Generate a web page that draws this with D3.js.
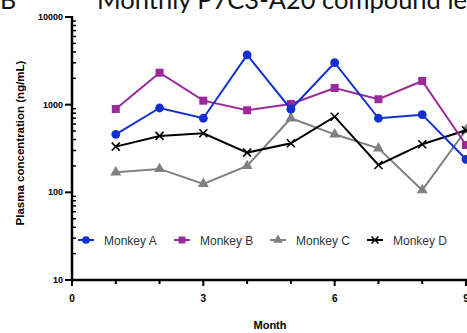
<!DOCTYPE html>
<html>
<head>
<meta charset="utf-8">
<script src="https://cdn.jsdelivr.net/npm/d3@7"></script>
<style>
  body { margin: 0; background: #fff; overflow: hidden; }
  svg { display: block; }
</style>
</head>
<body>
<svg id="chart" width="467" height="333"></svg>
<script>
// months and values
const months = [1, 2, 3, 4, 5, 6, 7, 8, 9];
const monkeyA = [459, 916, 700, 3690, 887, 3010, 700, 769, 238];
const monkeyB = [893, 2317, 1111, 863, 1019, 1550, 1153, 1862, 347];
const monkeyC = [169, 185, 125, 200, 700, 459, 318, 106, 514];
const monkeyD = [332, 440, 472, 284, 363, 729, 205, 354, 510];
const seriesNames = ["Monkey A", "Monkey B", "Monkey C", "Monkey D"];
const xTicks = [0, 3, 6, 9];
const yTicks = [10, 100, 1000, 10000];

const series = [
  { name: seriesNames[0], values: monkeyA, color: "#1030d0", shape: "circle" },
  { name: seriesNames[1], values: monkeyB, color: "#9a2a9a", shape: "square" },
  { name: seriesNames[2], values: monkeyC, color: "#808080", shape: "triangle" },
  { name: seriesNames[3], values: monkeyD, color: "#000000", shape: "cross" }
];

const sans = "'Liberation Sans', Arial, sans-serif";

const svg = d3.select("#chart");

const x = d3.scaleLinear().domain([0, 9]).range([72, 466]);
const y = d3.scaleLog().domain([10, 10000]).range([280, 17]);

// title (cut off at the top in the original)
svg.append("text")
  .attr("x", 0).attr("y", 9)
  .style("font-family", "Lato, 'Open Sans', sans-serif")
  .style("font-size", "25px")
  .attr("fill", "#111")
  .text("B");
svg.append("text")
  .attr("x", 97).attr("y", 9)
  .style("font-family", "Lato, 'Open Sans', sans-serif")
  .style("font-size", "25.5px")
  .attr("fill", "#111")
  .text("Monthly P7C3-A20 compound levels");

// y axis: major ticks + log minor ticks
const minor = [];
for (let d = 10; d < 10000; d *= 10) {
  for (let k = 2; k <= 9; k++) minor.push(d * k);
}
const yAxis = svg.append("g");
yAxis.append("line")
  .attr("x1", 72).attr("x2", 72)
  .attr("y1", y(10000) - 1).attr("y2", y(10) + 1)
  .attr("stroke", "#000").attr("stroke-width", 2.5);
yAxis.selectAll(".ymaj").data(yTicks).enter().append("line")
  .attr("x1", 65).attr("x2", 72)
  .attr("y1", d => y(d)).attr("y2", d => y(d))
  .attr("stroke", "#000").attr("stroke-width", 2);
yAxis.selectAll(".ymin").data(minor).enter().append("line")
  .attr("x1", 72).attr("x2", 76)
  .attr("y1", d => y(d)).attr("y2", d => y(d))
  .attr("stroke", "#000").attr("stroke-width", 1.5);
yAxis.selectAll(".ylab").data(yTicks).enter().append("text")
  .attr("x", 63).attr("y", d => y(d) + 3)
  .attr("text-anchor", "end")
  .style("font-family", sans)
  .style("font-size", "9px").style("font-weight", "bold")
  .text(d => d);

// x axis
const xAxis = svg.append("g");
xAxis.append("line")
  .attr("x1", 71).attr("x2", 467)
  .attr("y1", 280).attr("y2", 280)
  .attr("stroke", "#000").attr("stroke-width", 2.5);
xAxis.selectAll(".xmaj").data(xTicks).enter().append("line")
  .attr("x1", d => x(d)).attr("x2", d => x(d))
  .attr("y1", 280).attr("y2", 286)
  .attr("stroke", "#000").attr("stroke-width", 2);
xAxis.selectAll(".xmin").data(d3.range(1, 9).filter(d => d % 3 !== 0)).enter().append("line")
  .attr("x1", d => x(d)).attr("x2", d => x(d))
  .attr("y1", 280).attr("y2", 284)
  .attr("stroke", "#000").attr("stroke-width", 2);
xAxis.selectAll(".xlab").data(xTicks).enter().append("text")
  .attr("x", d => x(d)).attr("y", 302)
  .attr("text-anchor", "middle")
  .style("font-family", sans)
  .style("font-size", "10px").style("font-weight", "bold")
  .text(d => d);

// axis titles
svg.append("text")
  .attr("x", 270).attr("y", 329)
  .attr("text-anchor", "middle")
  .style("font-family", sans)
  .style("font-size", "11px").style("font-weight", "bold")
  .text("Month");
svg.append("text")
  .attr("transform", "translate(24,143) rotate(-90)")
  .attr("text-anchor", "middle")
  .style("font-family", sans)
  .style("font-size", "11.5px").style("font-weight", "bold")
  .text("Plasma concentration (ng/mL)");

// markers
function drawMarker(g, shape, color, size) {
  if (shape === "circle") {
    g.append("circle").attr("r", size * 0.55).attr("fill", color);
  } else if (shape === "square") {
    g.append("rect").attr("x", -size / 2).attr("y", -size / 2)
      .attr("width", size).attr("height", size).attr("fill", color);
  } else if (shape === "triangle") {
    g.append("path").attr("d", d3.symbol(d3.symbolTriangle, size * size * 0.8)()).attr("fill", color);
  } else {
    const s = size / 2;
    g.append("path").attr("d", `M${-s},${-s}L${s},${s}M${-s},${s}L${s},${-s}`)
      .attr("stroke", color).attr("stroke-width", 1.6).attr("fill", "none");
  }
}

const line = d3.line()
  .x((d, i) => x(months[i]))
  .y(d => y(d));

const plot = svg.append("g");
// draw C, D first then B, A on top like the picture
[2, 3, 1, 0].forEach(idx => {
  const s = series[idx];
  plot.append("path")
    .datum(s.values)
    .attr("d", line)
    .attr("fill", "none")
    .attr("stroke", s.color)
    .attr("stroke-width", 2);
  s.values.forEach((v, i) => {
    const g = plot.append("g").attr("transform", `translate(${x(months[i])},${y(v)})`);
    drawMarker(g, s.shape, s.color, 8);
  });
});

// legend
const legendX = [78, 174, 270, 367];
const legend = svg.append("g");
series.forEach((s, i) => {
  const g = legend.append("g").attr("transform", `translate(${legendX[i]},240)`);
  g.append("line").attr("x1", 0).attr("x2", 16).attr("y1", 0).attr("y2", 0)
    .attr("stroke", s.color).attr("stroke-width", 2);
  const m = g.append("g").attr("transform", "translate(8,0)");
  drawMarker(m, s.shape, s.color, 7);
  g.append("text")
    .attr("x", 26).attr("y", 4.5)
    .style("font-family", sans)
    .style("font-size", "12px")
    .attr("fill", "#333")
    .text(s.name);
});
</script>
</body>
</html>
